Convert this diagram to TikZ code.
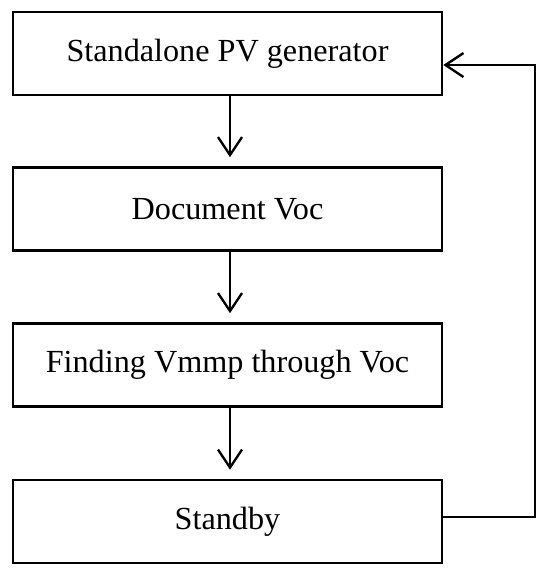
\documentclass[tikz,border=0pt]{standalone}
\usepackage{fontspec}
\setmainfont{Liberation Serif}
\usetikzlibrary{arrows.meta,calc,positioning}

\tikzset{
  stagebox/.style={draw,line width=2.6pt,minimum width=429pt,minimum height=83pt,
    inner sep=0pt,font=\fontsize{32.2}{38}\selectfont},
  flow/.style={line width=2.4pt,-{Straight Barb[length=18pt,width=24pt,line width=2.4pt]}}
}

\begin{document}
\begin{tikzpicture}[x=1pt,y=-1pt]
\useasboundingbox (0,0) rectangle (550,574);
% the four stages, top to bottom
\node[stagebox] (gen) at (227.5,53.5) {Standalone PV generator};
\node[stagebox] (doc) at (227.5,209) {Document Voc};
\node[stagebox] (find) at (227.5,365) {Finding Vmmp through Voc};
\node[stagebox] (stby) at (227.5,521.5) {Standby};
% downward arrows
\draw[flow,shorten >=9pt] ([xshift=2.5pt]gen.south) -- ([xshift=2.5pt]doc.north);
\draw[flow,shorten >=9pt] ([xshift=2.5pt]doc.south) -- ([xshift=2.5pt]find.north);
\draw[flow,shorten >=9pt] ([xshift=2.5pt]find.south) -- ([xshift=2.5pt]stby.north);
% loop back from standby
\coordinate (ret) at ([yshift=-11.5pt]gen.east);
\draw[flow] ([yshift=4.5pt]stby.east) -| (535,65) -- (ret);
\end{tikzpicture}
\end{document}
